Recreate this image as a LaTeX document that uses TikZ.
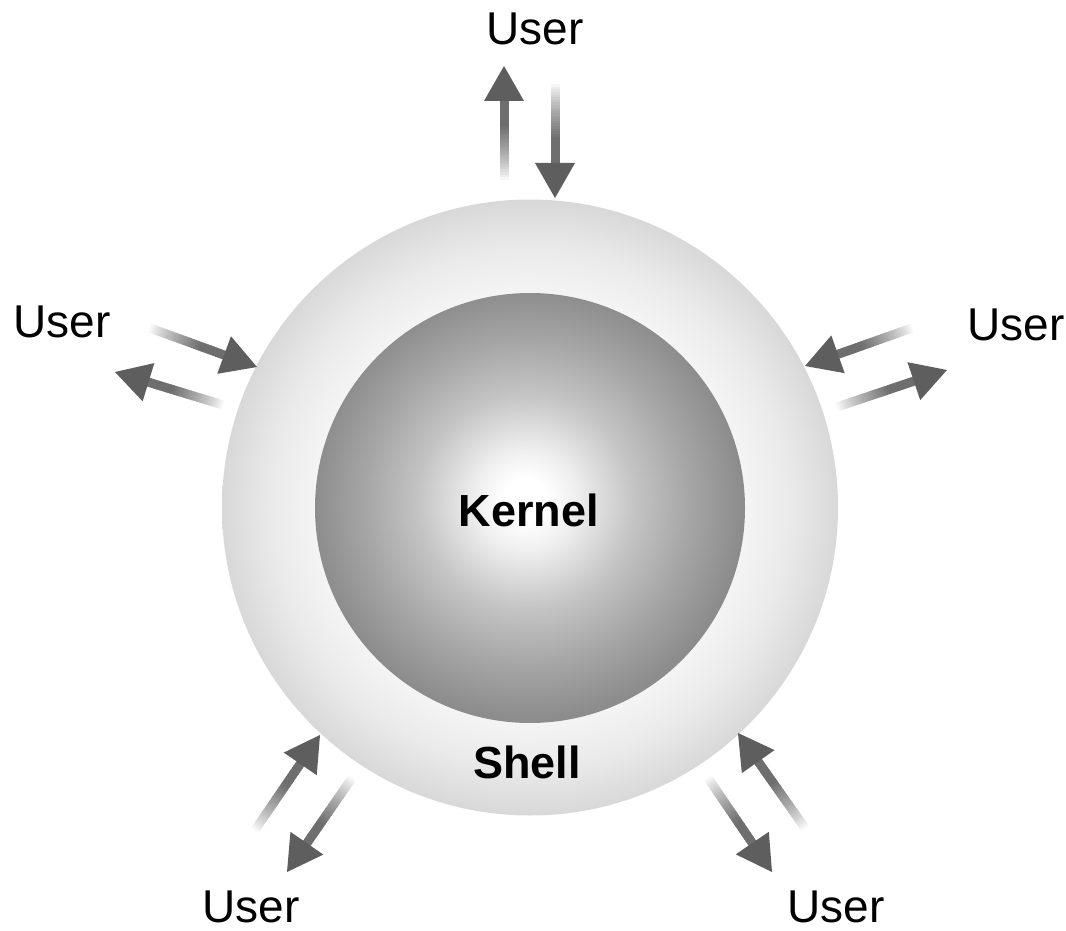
\documentclass[tikz,border=0pt]{standalone}
\usepackage{fontspec}
\setmainfont{Liberation Sans}
\usetikzlibrary{calc}
\definecolor{shA}{HTML}{F4F4F4}
\definecolor{shM}{HTML}{EAEAEA}
\definecolor{shB}{HTML}{D8D8D8}
\definecolor{kA}{HTML}{FFFFFF}
\definecolor{kE}{HTML}{EEEEEE}
\definecolor{kB}{HTML}{C4C4C4}
\definecolor{kC}{HTML}{A5A5A5}
\definecolor{kD}{HTML}{8C8C8C}
\definecolor{arrowc}{HTML}{6E6E6E}
\definecolor{headc}{HTML}{5E5E5E}
\pgfdeclareradialshading{shellshade}{\pgfpointorigin}{color(0bp)=(shA); color(17.45bp)=(shA); color(21bp)=(shM); color(25bp)=(shB); color(50bp)=(shB)}
\pgfdeclareradialshading{kernshade}{\pgfpoint{-0.6bp}{1bp}}{color(0bp)=(kA); color(2.5bp)=(kA); color(6bp)=(kE); color(12.5bp)=(kB); color(19bp)=(kC); color(25bp)=(kD); color(50bp)=(kD)}
\tikzset{
  usertext/.style={font=\fontsize{46}{55}\selectfont, anchor=base, inner sep=0pt},
  boldtext/.style={font=\fontsize{45}{54}\selectfont\bfseries, anchor=base, inner sep=0pt},
  ring/.style={circle, inner sep=0pt, draw=none}
}
\newcommand\uarr[3]{%
  \coordinate (#1t) at #2;
  \coordinate (#1h) at #3;
  \coordinate (#1b) at ($(#1h)!35pt!(#1t)$);
  \foreach \i in {0,...,29} {
    \pgfmathsetmacro\pa{\i/30}
    \pgfmathsetmacro\pb{(\i+1.4)/30}
    \pgfmathsetmacro\pc{min(100,135*((\i+0.5)/30)^0.8)}
    \draw[line width=9pt, color=arrowc!\pc!white] ($(#1t)!\pa!(#1b)$) -- ($(#1t)!\pb!(#1b)$);
  }
  \fill[headc] ($(#1b)!20pt!90:(#1h)$) -- (#1h) -- ($(#1b)!20pt!-90:(#1h)$) -- cycle;
}
\begin{document}
\begin{tikzpicture}[x=1pt,y=-1pt]
\fill[white] (0,0) rectangle (1066,931);
\useasboundingbox (0,0) rectangle (1066,931);

\node[ring, minimum size=616pt, shading=shellshade] (shell) at (530,507.5) {};
\node[ring, minimum size=430pt, shading=kernshade] (kernel) at (530,508) {};

\node[boldtext] (kernellabel) at (529,526) {Kernel};
\node[boldtext] (shelllabel) at (527,778) {Shell};

\node[usertext] (utop) at (535,45) {User};
\node[usertext] (uleft) at (62,337) {User};
\node[usertext] (uright) at (1016,340) {User};
\node[usertext] (ubl) at (251,922) {User};
\node[usertext] (ubr) at (836,922) {User};

\uarr{topup}{(504,180)}{(504,66)}
\uarr{topdown}{(555,84)}{(555,198)}
\uarr{leftin}{(150,328)}{(257,367)}
\uarr{leftout}{(223,405)}{(115,372)}
\uarr{rightin}{(912,328)}{(805,366)}
\uarr{rightout}{(837,407)}{(947,370)}
\uarr{blin}{(255,830)}{(320,735)}
\uarr{blout}{(352,778)}{(287,872)}
\uarr{brin}{(805,828)}{(738,733)}
\uarr{brout}{(708,778)}{(772,872)}
\end{tikzpicture}
\end{document}
